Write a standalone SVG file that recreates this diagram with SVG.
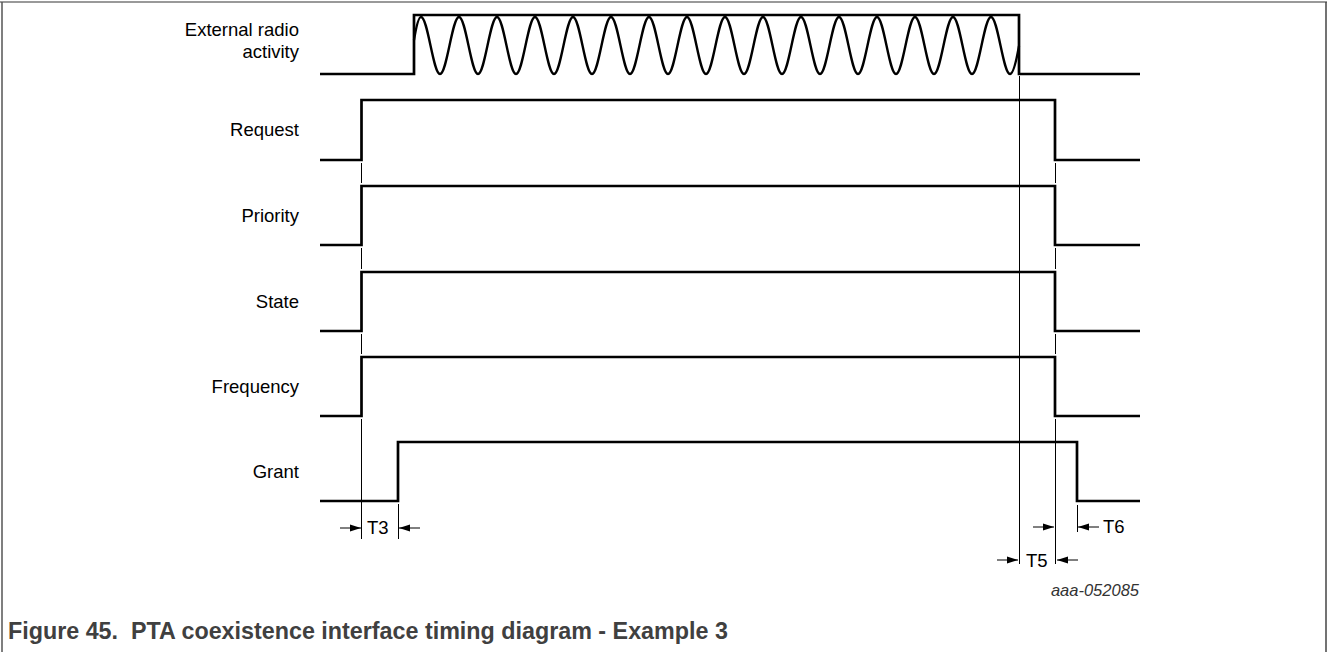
<svg xmlns="http://www.w3.org/2000/svg" width="1328" height="652" viewBox="0 0 1328 652">
<style>
.lbl{font-family:"Liberation Sans",Arial,sans-serif;font-size:18.5px;fill:#000;text-anchor:end}
.tl{font-family:"Liberation Sans",Arial,sans-serif;font-size:18.5px;fill:#000}
.sig{fill:none;stroke:#000;stroke-width:2.7;stroke-linejoin:miter;stroke-linecap:butt}
.wave{fill:none;stroke:#000;stroke-width:2.4}
.thin{fill:none;stroke:#000;stroke-width:1}
.arr{fill:none;stroke:#000;stroke-width:1;marker-end:url(#ah)}
</style>
<defs>
<marker id="ah" markerUnits="userSpaceOnUse" markerWidth="11" markerHeight="8" refX="11" refY="4" orient="auto">
<path d="M0,0.5 L11,4 L0,7.5 z" fill="#000"/>
</marker>
</defs>
<rect width="1328" height="652" fill="#fff"/>
<g id="frame">
<line x1="0" y1="2" x2="1327" y2="2" stroke="#999" stroke-width="2"/>
<line x1="2" y1="2" x2="2" y2="652" stroke="#555" stroke-width="1.5"/>
<line x1="1326" y1="2" x2="1326" y2="652" stroke="#444" stroke-width="1.5"/>
</g>
<g id="connectors">
<path class="thin" d="M361.5,163 V183 M361.5,248 V269 M361.5,334 V354 M361.5,419 V539"/>
<path class="thin" d="M1055.5,163 V183 M1055.5,248 V269 M1055.5,334 V354 M1055.5,419 V564"/>
<path class="thin" d="M1019.5,76 V564"/>
<path class="thin" d="M398.5,504 V539"/>
<path class="thin" d="M1077.5,505 V532"/>
<line class="arr" x1="340" y1="528" x2="361" y2="528"/>
<line class="arr" x1="420" y1="528" x2="399" y2="528"/>
<line class="arr" x1="1033" y1="527" x2="1054" y2="527"/>
<line class="arr" x1="1099" y1="527" x2="1078" y2="527"/>
<line class="arr" x1="997" y1="560" x2="1018" y2="560"/>
<line class="arr" x1="1078" y1="560" x2="1057" y2="560"/>
</g>
<g id="external">
<text class="lbl" x="299" y="36">External radio</text>
<text class="lbl" x="299" y="58">activity</text>
<path class="sig" d="M320,74 H414 V15 H1019 V74 H1140"/>
<path class="wave" d="M414,40 C416,28 418.5,17 421,17 c6.9,0 12.1,57 19,57 c6.9,0 12.1,-57 19,-57 c6.9,0 12.1,57 19,57 c6.9,0 12.1,-57 19,-57 c6.9,0 12.1,57 19,57 c6.9,0 12.1,-57 19,-57 c6.9,0 12.1,57 19,57 c6.9,0 12.1,-57 19,-57 c6.9,0 12.1,57 19,57 c6.9,0 12.1,-57 19,-57 c6.9,0 12.1,57 19,57 c6.9,0 12.1,-57 19,-57 c6.9,0 12.1,57 19,57 c6.9,0 12.1,-57 19,-57 c6.9,0 12.1,57 19,57 c6.9,0 12.1,-57 19,-57 c6.9,0 12.1,57 19,57 c6.9,0 12.1,-57 19,-57 c6.9,0 12.1,57 19,57 c6.9,0 12.1,-57 19,-57 c6.9,0 12.1,57 19,57 c6.9,0 12.1,-57 19,-57 c6.9,0 12.1,57 19,57 c6.9,0 12.1,-57 19,-57 c6.9,0 12.1,57 19,57 c6.9,0 12.1,-57 19,-57 c6.9,0 12.1,57 19,57 c6.9,0 12.1,-57 19,-57 c6.9,0 12.1,57 19,57 c6.9,0 12.1,-57 19,-57 c6.9,0 12.1,57 19,57 c3.5,0 6.5,-14 9,-28"/>
</g>
<g id="request">
<text class="lbl" x="299" y="136">Request</text>
<path class="sig" d="M320,160 H361.5 V100 H1055 V160 H1140"/>
</g>
<g id="priority">
<text class="lbl" x="299" y="221.5">Priority</text>
<path class="sig" d="M320,245 H361.5 V186 H1055 V245 H1140"/>
</g>
<g id="state">
<text class="lbl" x="299" y="307.5">State</text>
<path class="sig" d="M320,331 H361.5 V272 H1055 V331 H1140"/>
</g>
<g id="frequency">
<text class="lbl" x="299" y="392.5">Frequency</text>
<path class="sig" d="M320,416 H361.5 V357 H1055 V416 H1140"/>
</g>
<g id="grant">
<text class="lbl" x="299" y="477.5">Grant</text>
<path class="sig" d="M320,501 H398 V442 H1077 V501 H1140"/>
</g>
<g id="timing-labels">
<text class="tl" x="367" y="534">T3</text>
<text class="tl" x="1103" y="533">T6</text>
<text class="tl" x="1026" y="567">T5</text>
</g>
<text x="1139" y="596" font-family="'Liberation Sans',Arial,sans-serif" font-size="16.5" font-style="italic" fill="#333" text-anchor="end">aaa-052085</text>
<text x="8" y="639" font-family="'Liberation Sans',Arial,sans-serif" font-size="23.3" font-weight="bold" fill="#404040" xml:space="preserve">Figure 45.  PTA coexistence interface timing diagram - Example 3</text>
</svg>
